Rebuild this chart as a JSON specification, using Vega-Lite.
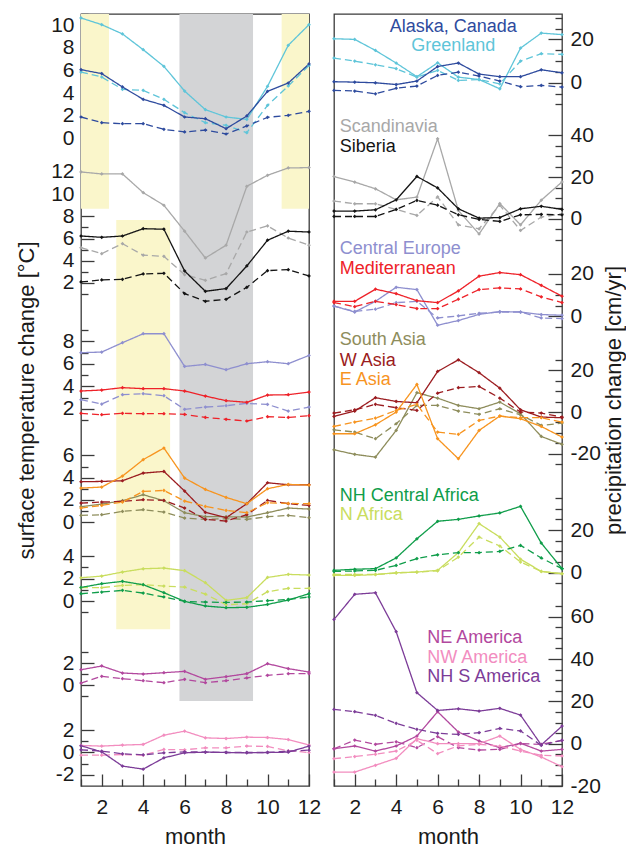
{
"$schema":"https://vega.github.io/schema/vega-lite/v6.json",
"background":"white",
"padding":{"left":14,"top":2,"right":0,"bottom":2},
"config":{
"view":{"stroke":"#3a3a3a","strokeWidth":1.3},
"font":"Liberation Sans",
"axis":{"labelFont":"Liberation Sans","labelFontSize":21,"labelColor":"#1a1a1a","titleFont":"Liberation Sans","titleFontSize":22,"titleFontWeight":"normal","titleColor":"#1a1a1a","domain":false,"grid":false,"tickColor":"#3a3a3a","tickWidth":1.3,"labelOverlap":false,"labelFlush":false,"labelBound":false},
"line":{"strokeWidth":1.3},
"point":{"filled":true,"size":14,"shape":"diamond","opacity":1},
"text":{"font":"Liberation Sans","fontSize":18}
},
"datasets":{
"shade":[
{"kind":"yellow","m":1,"m2":2.35,"v":11.0,"v2":-6.18},
{"kind":"yellow","m":10.68,"m2":12,"v":11.0,"v2":-6.18},
{"kind":"yellow","m":2.7,"m2":5.3,"v":-7.18,"v2":-43.3},
{"kind":"gray","m":5.75,"m2":9.3,"v":11.0,"v2":-49.63}
],
"labels":[
{"reg":"ALA","name":"Alaska, Canada","m":6.75,"v":25.7},
{"reg":"GRL","name":"Greenland","m":6.75,"v":16.8},
{"reg":"SCA","name":"Scandinavia","m":1.28,"v":44.0},
{"reg":"SIB","name":"Siberia","m":1.28,"v":34.4},
{"reg":"CEU","name":"Central Europe","m":1.28,"v":31.7},
{"reg":"MED","name":"Mediterranean","m":1.28,"v":22.3},
{"reg":"SAS","name":"South Asia","m":1.28,"v":34.4},
{"reg":"WAS","name":"W Asia","m":1.28,"v":24.5},
{"reg":"EAS","name":"E Asia","m":1.28,"v":15.2},
{"reg":"CAF","name":"NH Central Africa","m":1.28,"v":36.0},
{"reg":"NAF","name":"N Africa","m":1.28,"v":26.9},
{"reg":"NEA","name":"NE America","m":5.5,"v":49.7},
{"reg":"NWA","name":"NW America","m":5.5,"v":40.3},
{"reg":"SAM","name":"NH S America","m":5.5,"v":31.3}
],
"temp":[
{"reg":"GRL","sc":"a","m":1,"v":10.65},{"reg":"GRL","sc":"a","m":2,"v":10.06},{"reg":"GRL","sc":"a","m":3,"v":9.24},{"reg":"GRL","sc":"a","m":4,"v":7.85},{"reg":"GRL","sc":"a","m":5,"v":6.38},{"reg":"GRL","sc":"a","m":6,"v":4.2},{"reg":"GRL","sc":"a","m":7,"v":2.56},{"reg":"GRL","sc":"a","m":8,"v":1.91},{"reg":"GRL","sc":"a","m":9,"v":1.7},{"reg":"GRL","sc":"a","m":10,"v":4.62},{"reg":"GRL","sc":"a","m":11,"v":8.24},{"reg":"GRL","sc":"a","m":12,"v":10.06},
{"reg":"GRL","sc":"b","m":1,"v":5.88},{"reg":"GRL","sc":"b","m":2,"v":5.44},{"reg":"GRL","sc":"b","m":3,"v":4.35},{"reg":"GRL","sc":"b","m":4,"v":4.26},{"reg":"GRL","sc":"b","m":5,"v":3.47},{"reg":"GRL","sc":"b","m":6,"v":2.29},{"reg":"GRL","sc":"b","m":7,"v":1.41},{"reg":"GRL","sc":"b","m":8,"v":1.18},{"reg":"GRL","sc":"b","m":9,"v":0.53},{"reg":"GRL","sc":"b","m":10,"v":2.94},{"reg":"GRL","sc":"b","m":11,"v":4.65},{"reg":"GRL","sc":"b","m":12,"v":6.47},
{"reg":"ALA","sc":"a","m":1,"v":6.09},{"reg":"ALA","sc":"a","m":2,"v":5.74},{"reg":"ALA","sc":"a","m":3,"v":4.56},{"reg":"ALA","sc":"a","m":4,"v":3.47},{"reg":"ALA","sc":"a","m":5,"v":2.94},{"reg":"ALA","sc":"a","m":6,"v":1.91},{"reg":"ALA","sc":"a","m":7,"v":1.76},{"reg":"ALA","sc":"a","m":8,"v":0.88},{"reg":"ALA","sc":"a","m":9,"v":2.0},{"reg":"ALA","sc":"a","m":10,"v":4.18},{"reg":"ALA","sc":"a","m":11,"v":4.91},{"reg":"ALA","sc":"a","m":12,"v":6.59},
{"reg":"ALA","sc":"b","m":1,"v":1.91},{"reg":"ALA","sc":"b","m":2,"v":1.41},{"reg":"ALA","sc":"b","m":3,"v":1.32},{"reg":"ALA","sc":"b","m":4,"v":1.32},{"reg":"ALA","sc":"b","m":5,"v":0.82},{"reg":"ALA","sc":"b","m":6,"v":0.59},{"reg":"ALA","sc":"b","m":7,"v":0.76},{"reg":"ALA","sc":"b","m":8,"v":0.41},{"reg":"ALA","sc":"b","m":9,"v":1.12},{"reg":"ALA","sc":"b","m":10,"v":1.88},{"reg":"ALA","sc":"b","m":11,"v":2.06},{"reg":"ALA","sc":"b","m":12,"v":2.41},
{"reg":"SCA","sc":"a","m":1,"v":12.0},{"reg":"SCA","sc":"a","m":2,"v":11.82},{"reg":"SCA","sc":"a","m":3,"v":11.82},{"reg":"SCA","sc":"a","m":4,"v":10.14},{"reg":"SCA","sc":"a","m":5,"v":9.0},{"reg":"SCA","sc":"a","m":6,"v":6.66},{"reg":"SCA","sc":"a","m":7,"v":4.25},{"reg":"SCA","sc":"a","m":8,"v":5.4},{"reg":"SCA","sc":"a","m":9,"v":10.71},{"reg":"SCA","sc":"a","m":10,"v":11.7},{"reg":"SCA","sc":"a","m":11,"v":12.36},{"reg":"SCA","sc":"a","m":12,"v":12.39},
{"reg":"SCA","sc":"b","m":1,"v":5.18},{"reg":"SCA","sc":"b","m":2,"v":4.64},{"reg":"SCA","sc":"b","m":3,"v":5.54},{"reg":"SCA","sc":"b","m":4,"v":4.5},{"reg":"SCA","sc":"b","m":5,"v":4.4},{"reg":"SCA","sc":"b","m":6,"v":2.75},{"reg":"SCA","sc":"b","m":7,"v":2.24},{"reg":"SCA","sc":"b","m":8,"v":2.84},{"reg":"SCA","sc":"b","m":9,"v":6.59},{"reg":"SCA","sc":"b","m":10,"v":7.14},{"reg":"SCA","sc":"b","m":11,"v":6.05},{"reg":"SCA","sc":"b","m":12,"v":5.4},
{"reg":"SIB","sc":"a","m":1,"v":6.23},{"reg":"SIB","sc":"a","m":2,"v":6.11},{"reg":"SIB","sc":"a","m":3,"v":6.23},{"reg":"SIB","sc":"a","m":4,"v":6.89},{"reg":"SIB","sc":"a","m":5,"v":6.84},{"reg":"SIB","sc":"a","m":6,"v":3.08},{"reg":"SIB","sc":"a","m":7,"v":1.25},{"reg":"SIB","sc":"a","m":8,"v":1.49},{"reg":"SIB","sc":"a","m":9,"v":3.53},{"reg":"SIB","sc":"a","m":10,"v":5.85},{"reg":"SIB","sc":"a","m":11,"v":6.66},{"reg":"SIB","sc":"a","m":12,"v":6.59},
{"reg":"SIB","sc":"b","m":1,"v":2.09},{"reg":"SIB","sc":"b","m":2,"v":2.27},{"reg":"SIB","sc":"b","m":3,"v":2.33},{"reg":"SIB","sc":"b","m":4,"v":2.81},{"reg":"SIB","sc":"b","m":5,"v":2.87},{"reg":"SIB","sc":"b","m":6,"v":1.04},{"reg":"SIB","sc":"b","m":7,"v":0.35},{"reg":"SIB","sc":"b","m":8,"v":0.53},{"reg":"SIB","sc":"b","m":9,"v":1.61},{"reg":"SIB","sc":"b","m":10,"v":3.11},{"reg":"SIB","sc":"b","m":11,"v":3.2},{"reg":"SIB","sc":"b","m":12,"v":2.63},
{"reg":"CEU","sc":"a","m":1,"v":6.99},{"reg":"CEU","sc":"a","m":2,"v":7.05},{"reg":"CEU","sc":"a","m":3,"v":7.88},{"reg":"CEU","sc":"a","m":4,"v":8.68},{"reg":"CEU","sc":"a","m":5,"v":8.68},{"reg":"CEU","sc":"a","m":6,"v":5.77},{"reg":"CEU","sc":"a","m":7,"v":5.95},{"reg":"CEU","sc":"a","m":8,"v":5.48},{"reg":"CEU","sc":"a","m":9,"v":6.01},{"reg":"CEU","sc":"a","m":10,"v":6.19},{"reg":"CEU","sc":"a","m":11,"v":6.01},{"reg":"CEU","sc":"a","m":12,"v":6.75},
{"reg":"CEU","sc":"b","m":1,"v":2.81},{"reg":"CEU","sc":"b","m":2,"v":2.42},{"reg":"CEU","sc":"b","m":3,"v":3.25},{"reg":"CEU","sc":"b","m":4,"v":3.34},{"reg":"CEU","sc":"b","m":5,"v":3.16},{"reg":"CEU","sc":"b","m":6,"v":1.95},{"reg":"CEU","sc":"b","m":7,"v":2.15},{"reg":"CEU","sc":"b","m":8,"v":2.27},{"reg":"CEU","sc":"b","m":9,"v":2.48},{"reg":"CEU","sc":"b","m":10,"v":2.39},{"reg":"CEU","sc":"b","m":11,"v":1.8},{"reg":"CEU","sc":"b","m":12,"v":2.15},
{"reg":"MED","sc":"a","m":1,"v":3.58},{"reg":"MED","sc":"a","m":2,"v":3.67},{"reg":"MED","sc":"a","m":3,"v":3.88},{"reg":"MED","sc":"a","m":4,"v":3.79},{"reg":"MED","sc":"a","m":5,"v":3.79},{"reg":"MED","sc":"a","m":6,"v":3.58},{"reg":"MED","sc":"a","m":7,"v":3.13},{"reg":"MED","sc":"a","m":8,"v":2.72},{"reg":"MED","sc":"a","m":9,"v":2.57},{"reg":"MED","sc":"a","m":10,"v":3.22},{"reg":"MED","sc":"a","m":11,"v":3.25},{"reg":"MED","sc":"a","m":12,"v":3.49},
{"reg":"MED","sc":"b","m":1,"v":1.59},{"reg":"MED","sc":"b","m":2,"v":1.47},{"reg":"MED","sc":"b","m":3,"v":1.59},{"reg":"MED","sc":"b","m":4,"v":1.56},{"reg":"MED","sc":"b","m":5,"v":1.56},{"reg":"MED","sc":"b","m":6,"v":1.5},{"reg":"MED","sc":"b","m":7,"v":1.23},{"reg":"MED","sc":"b","m":8,"v":1.06},{"reg":"MED","sc":"b","m":9,"v":0.91},{"reg":"MED","sc":"b","m":10,"v":1.29},{"reg":"MED","sc":"b","m":11,"v":1.23},{"reg":"MED","sc":"b","m":12,"v":1.38},
{"reg":"SAS","sc":"a","m":1,"v":1.38},{"reg":"SAS","sc":"a","m":2,"v":1.62},{"reg":"SAS","sc":"a","m":3,"v":1.92},{"reg":"SAS","sc":"a","m":4,"v":2.46},{"reg":"SAS","sc":"a","m":5,"v":1.92},{"reg":"SAS","sc":"a","m":6,"v":0.84},{"reg":"SAS","sc":"a","m":7,"v":0.48},{"reg":"SAS","sc":"a","m":8,"v":0.48},{"reg":"SAS","sc":"a","m":9,"v":0.45},{"reg":"SAS","sc":"a","m":10,"v":0.84},{"reg":"SAS","sc":"a","m":11,"v":1.26},{"reg":"SAS","sc":"a","m":12,"v":1.17},
{"reg":"SAS","sc":"b","m":1,"v":0.6},{"reg":"SAS","sc":"b","m":2,"v":0.66},{"reg":"SAS","sc":"b","m":3,"v":0.96},{"reg":"SAS","sc":"b","m":4,"v":1.11},{"reg":"SAS","sc":"b","m":5,"v":0.9},{"reg":"SAS","sc":"b","m":6,"v":0.36},{"reg":"SAS","sc":"b","m":7,"v":0.24},{"reg":"SAS","sc":"b","m":8,"v":0.3},{"reg":"SAS","sc":"b","m":9,"v":0.24},{"reg":"SAS","sc":"b","m":10,"v":0.48},{"reg":"SAS","sc":"b","m":11,"v":0.6},{"reg":"SAS","sc":"b","m":12,"v":0.39},
{"reg":"WAS","sc":"a","m":1,"v":3.63},{"reg":"WAS","sc":"a","m":2,"v":3.66},{"reg":"WAS","sc":"a","m":3,"v":3.72},{"reg":"WAS","sc":"a","m":4,"v":4.41},{"reg":"WAS","sc":"a","m":5,"v":4.56},{"reg":"WAS","sc":"a","m":6,"v":2.79},{"reg":"WAS","sc":"a","m":7,"v":0.87},{"reg":"WAS","sc":"a","m":8,"v":0.39},{"reg":"WAS","sc":"a","m":9,"v":1.65},{"reg":"WAS","sc":"a","m":10,"v":3.54},{"reg":"WAS","sc":"a","m":11,"v":3.36},{"reg":"WAS","sc":"a","m":12,"v":3.36},
{"reg":"WAS","sc":"b","m":1,"v":1.71},{"reg":"WAS","sc":"b","m":2,"v":1.8},{"reg":"WAS","sc":"b","m":3,"v":1.86},{"reg":"WAS","sc":"b","m":4,"v":2.01},{"reg":"WAS","sc":"b","m":5,"v":1.95},{"reg":"WAS","sc":"b","m":6,"v":1.26},{"reg":"WAS","sc":"b","m":7,"v":0.24},{"reg":"WAS","sc":"b","m":8,"v":0.09},{"reg":"WAS","sc":"b","m":9,"v":0.66},{"reg":"WAS","sc":"b","m":10,"v":1.95},{"reg":"WAS","sc":"b","m":11,"v":1.65},{"reg":"WAS","sc":"b","m":12,"v":1.5},
{"reg":"EAS","sc":"a","m":1,"v":3.06},{"reg":"EAS","sc":"a","m":2,"v":3.15},{"reg":"EAS","sc":"a","m":3,"v":4.14},{"reg":"EAS","sc":"a","m":4,"v":5.62},{"reg":"EAS","sc":"a","m":5,"v":6.67},{"reg":"EAS","sc":"a","m":6,"v":3.96},{"reg":"EAS","sc":"a","m":7,"v":2.94},{"reg":"EAS","sc":"a","m":8,"v":2.22},{"reg":"EAS","sc":"a","m":9,"v":1.65},{"reg":"EAS","sc":"a","m":10,"v":3.0},{"reg":"EAS","sc":"a","m":11,"v":3.39},{"reg":"EAS","sc":"a","m":12,"v":3.33},
{"reg":"EAS","sc":"b","m":1,"v":1.26},{"reg":"EAS","sc":"b","m":2,"v":1.5},{"reg":"EAS","sc":"b","m":3,"v":1.8},{"reg":"EAS","sc":"b","m":4,"v":2.76},{"reg":"EAS","sc":"b","m":5,"v":2.85},{"reg":"EAS","sc":"b","m":6,"v":1.89},{"reg":"EAS","sc":"b","m":7,"v":1.41},{"reg":"EAS","sc":"b","m":8,"v":1.05},{"reg":"EAS","sc":"b","m":9,"v":0.84},{"reg":"EAS","sc":"b","m":10,"v":1.74},{"reg":"EAS","sc":"b","m":11,"v":1.68},{"reg":"EAS","sc":"b","m":12,"v":1.65},
{"reg":"NAF","sc":"a","m":1,"v":2.07},{"reg":"NAF","sc":"a","m":2,"v":2.22},{"reg":"NAF","sc":"a","m":3,"v":2.58},{"reg":"NAF","sc":"a","m":4,"v":2.87},{"reg":"NAF","sc":"a","m":5,"v":2.93},{"reg":"NAF","sc":"a","m":6,"v":2.7},{"reg":"NAF","sc":"a","m":7,"v":1.63},{"reg":"NAF","sc":"a","m":8,"v":0.06},{"reg":"NAF","sc":"a","m":9,"v":0.3},{"reg":"NAF","sc":"a","m":10,"v":2.1},{"reg":"NAF","sc":"a","m":11,"v":2.37},{"reg":"NAF","sc":"a","m":12,"v":2.31},
{"reg":"NAF","sc":"b","m":1,"v":1.19},{"reg":"NAF","sc":"b","m":2,"v":1.19},{"reg":"NAF","sc":"b","m":3,"v":1.39},{"reg":"NAF","sc":"b","m":4,"v":1.45},{"reg":"NAF","sc":"b","m":5,"v":1.33},{"reg":"NAF","sc":"b","m":6,"v":1.24},{"reg":"NAF","sc":"b","m":7,"v":0.62},{"reg":"NAF","sc":"b","m":8,"v":-0.33},{"reg":"NAF","sc":"b","m":9,"v":-0.24},{"reg":"NAF","sc":"b","m":10,"v":0.83},{"reg":"NAF","sc":"b","m":11,"v":1.13},{"reg":"NAF","sc":"b","m":12,"v":1.13},
{"reg":"CAF","sc":"a","m":1,"v":1.21},{"reg":"CAF","sc":"a","m":2,"v":1.54},{"reg":"CAF","sc":"a","m":3,"v":1.75},{"reg":"CAF","sc":"a","m":4,"v":1.45},{"reg":"CAF","sc":"a","m":5,"v":0.74},{"reg":"CAF","sc":"a","m":6,"v":-0.03},{"reg":"CAF","sc":"a","m":7,"v":-0.44},{"reg":"CAF","sc":"a","m":8,"v":-0.59},{"reg":"CAF","sc":"a","m":9,"v":-0.56},{"reg":"CAF","sc":"a","m":10,"v":-0.3},{"reg":"CAF","sc":"a","m":11,"v":0.09},{"reg":"CAF","sc":"a","m":12,"v":0.65},
{"reg":"CAF","sc":"b","m":1,"v":0.65},{"reg":"CAF","sc":"b","m":2,"v":0.8},{"reg":"CAF","sc":"b","m":3,"v":0.95},{"reg":"CAF","sc":"b","m":4,"v":0.71},{"reg":"CAF","sc":"b","m":5,"v":0.36},{"reg":"CAF","sc":"b","m":6,"v":-0.03},{"reg":"CAF","sc":"b","m":7,"v":-0.09},{"reg":"CAF","sc":"b","m":8,"v":-0.12},{"reg":"CAF","sc":"b","m":9,"v":-0.09},{"reg":"CAF","sc":"b","m":10,"v":0.03},{"reg":"CAF","sc":"b","m":11,"v":0.15},{"reg":"CAF","sc":"b","m":12,"v":0.36},
{"reg":"NEA","sc":"a","m":1,"v":1.42},{"reg":"NEA","sc":"a","m":2,"v":1.76},{"reg":"NEA","sc":"a","m":3,"v":1.12},{"reg":"NEA","sc":"a","m":4,"v":1.03},{"reg":"NEA","sc":"a","m":5,"v":1.15},{"reg":"NEA","sc":"a","m":6,"v":1.27},{"reg":"NEA","sc":"a","m":7,"v":0.55},{"reg":"NEA","sc":"a","m":8,"v":0.79},{"reg":"NEA","sc":"a","m":9,"v":1.06},{"reg":"NEA","sc":"a","m":10,"v":1.97},{"reg":"NEA","sc":"a","m":11,"v":1.52},{"reg":"NEA","sc":"a","m":12,"v":1.21},
{"reg":"NEA","sc":"b","m":1,"v":0.21},{"reg":"NEA","sc":"b","m":2,"v":0.82},{"reg":"NEA","sc":"b","m":3,"v":0.61},{"reg":"NEA","sc":"b","m":4,"v":0.42},{"reg":"NEA","sc":"b","m":5,"v":0.24},{"reg":"NEA","sc":"b","m":6,"v":0.55},{"reg":"NEA","sc":"b","m":7,"v":0.24},{"reg":"NEA","sc":"b","m":8,"v":0.42},{"reg":"NEA","sc":"b","m":9,"v":0.67},{"reg":"NEA","sc":"b","m":10,"v":0.91},{"reg":"NEA","sc":"b","m":11,"v":1.06},{"reg":"NEA","sc":"b","m":12,"v":1.06},
{"reg":"NWA","sc":"a","m":1,"v":0.63},{"reg":"NWA","sc":"a","m":2,"v":0.57},{"reg":"NWA","sc":"a","m":3,"v":0.66},{"reg":"NWA","sc":"a","m":4,"v":0.72},{"reg":"NWA","sc":"a","m":5,"v":1.55},{"reg":"NWA","sc":"a","m":6,"v":1.91},{"reg":"NWA","sc":"a","m":7,"v":1.31},{"reg":"NWA","sc":"a","m":8,"v":1.25},{"reg":"NWA","sc":"a","m":9,"v":1.37},{"reg":"NWA","sc":"a","m":10,"v":1.34},{"reg":"NWA","sc":"a","m":11,"v":1.16},{"reg":"NWA","sc":"a","m":12,"v":0.66},
{"reg":"NWA","sc":"b","m":1,"v":-0.24},{"reg":"NWA","sc":"b","m":2,"v":-0.24},{"reg":"NWA","sc":"b","m":3,"v":-0.18},{"reg":"NWA","sc":"b","m":4,"v":-0.24},{"reg":"NWA","sc":"b","m":5,"v":0.27},{"reg":"NWA","sc":"b","m":6,"v":0.24},{"reg":"NWA","sc":"b","m":7,"v":0.42},{"reg":"NWA","sc":"b","m":8,"v":0.42},{"reg":"NWA","sc":"b","m":9,"v":0.57},{"reg":"NWA","sc":"b","m":10,"v":0.54},{"reg":"NWA","sc":"b","m":11,"v":0.15},{"reg":"NWA","sc":"b","m":12,"v":0.0},
{"reg":"SAM","sc":"a","m":1,"v":0.6},{"reg":"SAM","sc":"a","m":2,"v":0.06},{"reg":"SAM","sc":"a","m":3,"v":-1.22},{"reg":"SAM","sc":"a","m":4,"v":-1.49},{"reg":"SAM","sc":"a","m":5,"v":-0.48},{"reg":"SAM","sc":"a","m":6,"v":-0.03},{"reg":"SAM","sc":"a","m":7,"v":0.03},{"reg":"SAM","sc":"a","m":8,"v":0.0},{"reg":"SAM","sc":"a","m":9,"v":-0.03},{"reg":"SAM","sc":"a","m":10,"v":0.0},{"reg":"SAM","sc":"a","m":11,"v":0.03},{"reg":"SAM","sc":"a","m":12,"v":0.57},
{"reg":"SAM","sc":"b","m":1,"v":0.24},{"reg":"SAM","sc":"b","m":2,"v":0.12},{"reg":"SAM","sc":"b","m":3,"v":-0.12},{"reg":"SAM","sc":"b","m":4,"v":-0.21},{"reg":"SAM","sc":"b","m":5,"v":-0.03},{"reg":"SAM","sc":"b","m":6,"v":0.06},{"reg":"SAM","sc":"b","m":7,"v":0.03},{"reg":"SAM","sc":"b","m":8,"v":0.0},{"reg":"SAM","sc":"b","m":9,"v":0.0},{"reg":"SAM","sc":"b","m":10,"v":0.0},{"reg":"SAM","sc":"b","m":11,"v":0.12},{"reg":"SAM","sc":"b","m":12,"v":0.21}
],
"prec":[
{"reg":"GRL","sc":"a","m":1,"v":20.3},{"reg":"GRL","sc":"a","m":2,"v":20.0},{"reg":"GRL","sc":"a","m":3,"v":14.9},{"reg":"GRL","sc":"a","m":4,"v":9.1},{"reg":"GRL","sc":"a","m":5,"v":2.8},{"reg":"GRL","sc":"a","m":6,"v":9.2},{"reg":"GRL","sc":"a","m":7,"v":2.6},{"reg":"GRL","sc":"a","m":8,"v":1.5},{"reg":"GRL","sc":"a","m":9,"v":-2.8},{"reg":"GRL","sc":"a","m":10,"v":16.0},{"reg":"GRL","sc":"a","m":11,"v":22.9},{"reg":"GRL","sc":"a","m":12,"v":22.2},
{"reg":"GRL","sc":"b","m":1,"v":11.4},{"reg":"GRL","sc":"b","m":2,"v":10.0},{"reg":"GRL","sc":"b","m":3,"v":8.3},{"reg":"GRL","sc":"b","m":4,"v":6.5},{"reg":"GRL","sc":"b","m":5,"v":2.6},{"reg":"GRL","sc":"b","m":6,"v":5.7},{"reg":"GRL","sc":"b","m":7,"v":1.1},{"reg":"GRL","sc":"b","m":8,"v":1.5},{"reg":"GRL","sc":"b","m":9,"v":-0.5},{"reg":"GRL","sc":"b","m":10,"v":10.0},{"reg":"GRL","sc":"b","m":11,"v":13.4},{"reg":"GRL","sc":"b","m":12,"v":13.1},
{"reg":"ALA","sc":"a","m":1,"v":0.5},{"reg":"ALA","sc":"a","m":2,"v":0.3},{"reg":"ALA","sc":"a","m":3,"v":0.0},{"reg":"ALA","sc":"a","m":4,"v":-0.8},{"reg":"ALA","sc":"a","m":5,"v":0.8},{"reg":"ALA","sc":"a","m":6,"v":7.5},{"reg":"ALA","sc":"a","m":7,"v":9.1},{"reg":"ALA","sc":"a","m":8,"v":4.0},{"reg":"ALA","sc":"a","m":9,"v":2.8},{"reg":"ALA","sc":"a","m":10,"v":2.8},{"reg":"ALA","sc":"a","m":11,"v":6.0},{"reg":"ALA","sc":"a","m":12,"v":4.6},
{"reg":"ALA","sc":"b","m":1,"v":-3.5},{"reg":"ALA","sc":"b","m":2,"v":-3.8},{"reg":"ALA","sc":"b","m":3,"v":-5.1},{"reg":"ALA","sc":"b","m":4,"v":-2.5},{"reg":"ALA","sc":"b","m":5,"v":-1.5},{"reg":"ALA","sc":"b","m":6,"v":3.4},{"reg":"ALA","sc":"b","m":7,"v":4.9},{"reg":"ALA","sc":"b","m":8,"v":3.1},{"reg":"ALA","sc":"b","m":9,"v":0.8},{"reg":"ALA","sc":"b","m":10,"v":-1.8},{"reg":"ALA","sc":"b","m":11,"v":-1.2},{"reg":"ALA","sc":"b","m":12,"v":-2.0},
{"reg":"SCA","sc":"a","m":1,"v":20.3},{"reg":"SCA","sc":"a","m":2,"v":17.6},{"reg":"SCA","sc":"a","m":3,"v":14.4},{"reg":"SCA","sc":"a","m":4,"v":9.1},{"reg":"SCA","sc":"a","m":5,"v":10.4},{"reg":"SCA","sc":"a","m":6,"v":38.4},{"reg":"SCA","sc":"a","m":7,"v":4.0},{"reg":"SCA","sc":"a","m":8,"v":-7.3},{"reg":"SCA","sc":"a","m":9,"v":7.3},{"reg":"SCA","sc":"a","m":10,"v":-2.9},{"reg":"SCA","sc":"a","m":11,"v":8.9},{"reg":"SCA","sc":"a","m":12,"v":17.7},
{"reg":"SCA","sc":"b","m":1,"v":8.5},{"reg":"SCA","sc":"b","m":2,"v":7.2},{"reg":"SCA","sc":"b","m":3,"v":7.2},{"reg":"SCA","sc":"b","m":4,"v":4.5},{"reg":"SCA","sc":"b","m":5,"v":1.6},{"reg":"SCA","sc":"b","m":6,"v":10.5},{"reg":"SCA","sc":"b","m":7,"v":-2.9},{"reg":"SCA","sc":"b","m":8,"v":-4.8},{"reg":"SCA","sc":"b","m":9,"v":6.5},{"reg":"SCA","sc":"b","m":10,"v":-5.6},{"reg":"SCA","sc":"b","m":11,"v":0.8},{"reg":"SCA","sc":"b","m":12,"v":2.4},
{"reg":"SIB","sc":"a","m":1,"v":3.7},{"reg":"SIB","sc":"a","m":2,"v":3.7},{"reg":"SIB","sc":"a","m":3,"v":4.3},{"reg":"SIB","sc":"a","m":4,"v":9.1},{"reg":"SIB","sc":"a","m":5,"v":20.3},{"reg":"SIB","sc":"a","m":6,"v":14.8},{"reg":"SIB","sc":"a","m":7,"v":4.8},{"reg":"SIB","sc":"a","m":8,"v":0.3},{"reg":"SIB","sc":"a","m":9,"v":0.6},{"reg":"SIB","sc":"a","m":10,"v":4.8},{"reg":"SIB","sc":"a","m":11,"v":6.0},{"reg":"SIB","sc":"a","m":12,"v":4.5},
{"reg":"SIB","sc":"b","m":1,"v":1.1},{"reg":"SIB","sc":"b","m":2,"v":1.1},{"reg":"SIB","sc":"b","m":3,"v":1.1},{"reg":"SIB","sc":"b","m":4,"v":4.5},{"reg":"SIB","sc":"b","m":5,"v":8.8},{"reg":"SIB","sc":"b","m":6,"v":6.5},{"reg":"SIB","sc":"b","m":7,"v":1.9},{"reg":"SIB","sc":"b","m":8,"v":-0.3},{"reg":"SIB","sc":"b","m":9,"v":-1.3},{"reg":"SIB","sc":"b","m":10,"v":1.9},{"reg":"SIB","sc":"b","m":11,"v":2.1},{"reg":"SIB","sc":"b","m":12,"v":1.9},
{"reg":"CEU","sc":"a","m":1,"v":4.8},{"reg":"CEU","sc":"a","m":2,"v":2.0},{"reg":"CEU","sc":"a","m":3,"v":7.0},{"reg":"CEU","sc":"a","m":4,"v":13.6},{"reg":"CEU","sc":"a","m":5,"v":12.5},{"reg":"CEU","sc":"a","m":6,"v":-4.2},{"reg":"CEU","sc":"a","m":7,"v":-2.0},{"reg":"CEU","sc":"a","m":8,"v":0.9},{"reg":"CEU","sc":"a","m":9,"v":2.2},{"reg":"CEU","sc":"a","m":10,"v":2.0},{"reg":"CEU","sc":"a","m":11,"v":0.8},{"reg":"CEU","sc":"a","m":12,"v":0.5},
{"reg":"CEU","sc":"b","m":1,"v":4.8},{"reg":"CEU","sc":"b","m":2,"v":2.3},{"reg":"CEU","sc":"b","m":3,"v":3.3},{"reg":"CEU","sc":"b","m":4,"v":6.4},{"reg":"CEU","sc":"b","m":5,"v":7.0},{"reg":"CEU","sc":"b","m":6,"v":-0.8},{"reg":"CEU","sc":"b","m":7,"v":0.2},{"reg":"CEU","sc":"b","m":8,"v":1.4},{"reg":"CEU","sc":"b","m":9,"v":2.0},{"reg":"CEU","sc":"b","m":10,"v":2.0},{"reg":"CEU","sc":"b","m":11,"v":-0.8},{"reg":"CEU","sc":"b","m":12,"v":-1.1},
{"reg":"MED","sc":"a","m":1,"v":7.0},{"reg":"MED","sc":"a","m":2,"v":7.0},{"reg":"MED","sc":"a","m":3,"v":12.7},{"reg":"MED","sc":"a","m":4,"v":10.6},{"reg":"MED","sc":"a","m":5,"v":7.3},{"reg":"MED","sc":"a","m":6,"v":6.4},{"reg":"MED","sc":"a","m":7,"v":11.9},{"reg":"MED","sc":"a","m":8,"v":18.8},{"reg":"MED","sc":"a","m":9,"v":20.5},{"reg":"MED","sc":"a","m":10,"v":19.5},{"reg":"MED","sc":"a","m":11,"v":14.5},{"reg":"MED","sc":"a","m":12,"v":9.4},
{"reg":"MED","sc":"b","m":1,"v":6.4},{"reg":"MED","sc":"b","m":2,"v":4.5},{"reg":"MED","sc":"b","m":3,"v":7.0},{"reg":"MED","sc":"b","m":4,"v":5.5},{"reg":"MED","sc":"b","m":5,"v":3.6},{"reg":"MED","sc":"b","m":6,"v":3.6},{"reg":"MED","sc":"b","m":7,"v":8.0},{"reg":"MED","sc":"b","m":8,"v":12.5},{"reg":"MED","sc":"b","m":9,"v":13.3},{"reg":"MED","sc":"b","m":10,"v":12.8},{"reg":"MED","sc":"b","m":11,"v":9.1},{"reg":"MED","sc":"b","m":12,"v":6.4},
{"reg":"SAS","sc":"a","m":1,"v":-18.1},{"reg":"SAS","sc":"a","m":2,"v":-20.3},{"reg":"SAS","sc":"a","m":3,"v":-21.6},{"reg":"SAS","sc":"a","m":4,"v":-8.8},{"reg":"SAS","sc":"a","m":5,"v":9.3},{"reg":"SAS","sc":"a","m":6,"v":6.7},{"reg":"SAS","sc":"a","m":7,"v":3.2},{"reg":"SAS","sc":"a","m":8,"v":1.6},{"reg":"SAS","sc":"a","m":9,"v":4.8},{"reg":"SAS","sc":"a","m":10,"v":-0.8},{"reg":"SAS","sc":"a","m":11,"v":-11.7},{"reg":"SAS","sc":"a","m":12,"v":-15.5},
{"reg":"SAS","sc":"b","m":1,"v":-8.5},{"reg":"SAS","sc":"b","m":2,"v":-9.6},{"reg":"SAS","sc":"b","m":3,"v":-12.8},{"reg":"SAS","sc":"b","m":4,"v":-5.6},{"reg":"SAS","sc":"b","m":5,"v":3.2},{"reg":"SAS","sc":"b","m":6,"v":3.2},{"reg":"SAS","sc":"b","m":7,"v":0.5},{"reg":"SAS","sc":"b","m":8,"v":-1.1},{"reg":"SAS","sc":"b","m":9,"v":1.6},{"reg":"SAS","sc":"b","m":10,"v":-1.3},{"reg":"SAS","sc":"b","m":11,"v":-6.4},{"reg":"SAS","sc":"b","m":12,"v":-5.3},
{"reg":"WAS","sc":"a","m":1,"v":-2.1},{"reg":"WAS","sc":"a","m":2,"v":0.5},{"reg":"WAS","sc":"a","m":3,"v":6.9},{"reg":"WAS","sc":"a","m":4,"v":5.1},{"reg":"WAS","sc":"a","m":5,"v":4.5},{"reg":"WAS","sc":"a","m":6,"v":19.5},{"reg":"WAS","sc":"a","m":7,"v":25.1},{"reg":"WAS","sc":"a","m":8,"v":18.9},{"reg":"WAS","sc":"a","m":9,"v":11.5},{"reg":"WAS","sc":"a","m":10,"v":1.1},{"reg":"WAS","sc":"a","m":11,"v":-2.4},{"reg":"WAS","sc":"a","m":12,"v":-2.7},
{"reg":"WAS","sc":"b","m":1,"v":-0.5},{"reg":"WAS","sc":"b","m":2,"v":1.1},{"reg":"WAS","sc":"b","m":3,"v":3.7},{"reg":"WAS","sc":"b","m":4,"v":2.1},{"reg":"WAS","sc":"b","m":5,"v":0.8},{"reg":"WAS","sc":"b","m":6,"v":9.1},{"reg":"WAS","sc":"b","m":7,"v":11.7},{"reg":"WAS","sc":"b","m":8,"v":12.3},{"reg":"WAS","sc":"b","m":9,"v":6.7},{"reg":"WAS","sc":"b","m":10,"v":0.0},{"reg":"WAS","sc":"b","m":11,"v":-0.5},{"reg":"WAS","sc":"b","m":12,"v":-2.4},
{"reg":"EAS","sc":"a","m":1,"v":-10.4},{"reg":"EAS","sc":"a","m":2,"v":-10.4},{"reg":"EAS","sc":"a","m":3,"v":-6.1},{"reg":"EAS","sc":"a","m":4,"v":0.0},{"reg":"EAS","sc":"a","m":5,"v":13.3},{"reg":"EAS","sc":"a","m":6,"v":-12.8},{"reg":"EAS","sc":"a","m":7,"v":-22.4},{"reg":"EAS","sc":"a","m":8,"v":-8.8},{"reg":"EAS","sc":"a","m":9,"v":-1.9},{"reg":"EAS","sc":"a","m":10,"v":-3.2},{"reg":"EAS","sc":"a","m":11,"v":-6.9},{"reg":"EAS","sc":"a","m":12,"v":-12.0},
{"reg":"EAS","sc":"b","m":1,"v":-6.9},{"reg":"EAS","sc":"b","m":2,"v":-4.8},{"reg":"EAS","sc":"b","m":3,"v":-2.9},{"reg":"EAS","sc":"b","m":4,"v":0.8},{"reg":"EAS","sc":"b","m":5,"v":3.7},{"reg":"EAS","sc":"b","m":6,"v":-9.6},{"reg":"EAS","sc":"b","m":7,"v":-10.7},{"reg":"EAS","sc":"b","m":8,"v":-4.0},{"reg":"EAS","sc":"b","m":9,"v":-1.9},{"reg":"EAS","sc":"b","m":10,"v":-2.7},{"reg":"EAS","sc":"b","m":11,"v":-2.7},{"reg":"EAS","sc":"b","m":12,"v":-4.8},
{"reg":"NAF","sc":"a","m":1,"v":-1.3},{"reg":"NAF","sc":"a","m":2,"v":-1.3},{"reg":"NAF","sc":"a","m":3,"v":-0.9},{"reg":"NAF","sc":"a","m":4,"v":0.0},{"reg":"NAF","sc":"a","m":5,"v":0.3},{"reg":"NAF","sc":"a","m":6,"v":1.1},{"reg":"NAF","sc":"a","m":7,"v":9.4},{"reg":"NAF","sc":"a","m":8,"v":23.0},{"reg":"NAF","sc":"a","m":9,"v":16.7},{"reg":"NAF","sc":"a","m":10,"v":6.3},{"reg":"NAF","sc":"a","m":11,"v":0.6},{"reg":"NAF","sc":"a","m":12,"v":-0.5},
{"reg":"NAF","sc":"b","m":1,"v":-0.8},{"reg":"NAF","sc":"b","m":2,"v":-0.8},{"reg":"NAF","sc":"b","m":3,"v":-0.8},{"reg":"NAF","sc":"b","m":4,"v":-0.2},{"reg":"NAF","sc":"b","m":5,"v":0.3},{"reg":"NAF","sc":"b","m":6,"v":0.9},{"reg":"NAF","sc":"b","m":7,"v":7.3},{"reg":"NAF","sc":"b","m":8,"v":16.7},{"reg":"NAF","sc":"b","m":9,"v":12.5},{"reg":"NAF","sc":"b","m":10,"v":5.0},{"reg":"NAF","sc":"b","m":11,"v":0.6},{"reg":"NAF","sc":"b","m":12,"v":-0.5},
{"reg":"CAF","sc":"a","m":1,"v":1.1},{"reg":"CAF","sc":"a","m":2,"v":1.6},{"reg":"CAF","sc":"a","m":3,"v":1.9},{"reg":"CAF","sc":"a","m":4,"v":6.9},{"reg":"CAF","sc":"a","m":5,"v":15.9},{"reg":"CAF","sc":"a","m":6,"v":24.1},{"reg":"CAF","sc":"a","m":7,"v":25.0},{"reg":"CAF","sc":"a","m":8,"v":26.6},{"reg":"CAF","sc":"a","m":9,"v":28.0},{"reg":"CAF","sc":"a","m":10,"v":31.1},{"reg":"CAF","sc":"a","m":11,"v":13.9},{"reg":"CAF","sc":"a","m":12,"v":1.9},
{"reg":"CAF","sc":"b","m":1,"v":0.6},{"reg":"CAF","sc":"b","m":2,"v":0.8},{"reg":"CAF","sc":"b","m":3,"v":1.1},{"reg":"CAF","sc":"b","m":4,"v":3.4},{"reg":"CAF","sc":"b","m":5,"v":6.6},{"reg":"CAF","sc":"b","m":6,"v":8.4},{"reg":"CAF","sc":"b","m":7,"v":9.4},{"reg":"CAF","sc":"b","m":8,"v":9.4},{"reg":"CAF","sc":"b","m":9,"v":10.0},{"reg":"CAF","sc":"b","m":10,"v":12.8},{"reg":"CAF","sc":"b","m":11,"v":6.9},{"reg":"CAF","sc":"b","m":12,"v":1.9},
{"reg":"NEA","sc":"a","m":1,"v":-2.4},{"reg":"NEA","sc":"a","m":2,"v":-1.1},{"reg":"NEA","sc":"a","m":3,"v":-3.5},{"reg":"NEA","sc":"a","m":4,"v":-1.1},{"reg":"NEA","sc":"a","m":5,"v":3.6},{"reg":"NEA","sc":"a","m":6,"v":15.1},{"reg":"NEA","sc":"a","m":7,"v":5.5},{"reg":"NEA","sc":"a","m":8,"v":1.3},{"reg":"NEA","sc":"a","m":9,"v":-1.9},{"reg":"NEA","sc":"a","m":10,"v":0.2},{"reg":"NEA","sc":"a","m":11,"v":-3.5},{"reg":"NEA","sc":"a","m":12,"v":-2.7},
{"reg":"NEA","sc":"b","m":1,"v":-2.4},{"reg":"NEA","sc":"b","m":2,"v":1.7},{"reg":"NEA","sc":"b","m":3,"v":-0.3},{"reg":"NEA","sc":"b","m":4,"v":0.9},{"reg":"NEA","sc":"b","m":5,"v":-1.9},{"reg":"NEA","sc":"b","m":6,"v":3.3},{"reg":"NEA","sc":"b","m":7,"v":-1.9},{"reg":"NEA","sc":"b","m":8,"v":-3.0},{"reg":"NEA","sc":"b","m":9,"v":-2.7},{"reg":"NEA","sc":"b","m":10,"v":0.0},{"reg":"NEA","sc":"b","m":11,"v":-0.3},{"reg":"NEA","sc":"b","m":12,"v":1.6},
{"reg":"NWA","sc":"a","m":1,"v":-13.4},{"reg":"NWA","sc":"a","m":2,"v":-13.4},{"reg":"NWA","sc":"a","m":3,"v":-10.2},{"reg":"NWA","sc":"a","m":4,"v":-6.9},{"reg":"NWA","sc":"a","m":5,"v":2.4},{"reg":"NWA","sc":"a","m":6,"v":0.0},{"reg":"NWA","sc":"a","m":7,"v":0.0},{"reg":"NWA","sc":"a","m":8,"v":0.0},{"reg":"NWA","sc":"a","m":9,"v":3.6},{"reg":"NWA","sc":"a","m":10,"v":-2.7},{"reg":"NWA","sc":"a","m":11,"v":-6.3},{"reg":"NWA","sc":"a","m":12,"v":-10.9},
{"reg":"NWA","sc":"b","m":1,"v":-7.1},{"reg":"NWA","sc":"b","m":2,"v":-6.1},{"reg":"NWA","sc":"b","m":3,"v":-5.0},{"reg":"NWA","sc":"b","m":4,"v":-3.5},{"reg":"NWA","sc":"b","m":5,"v":1.6},{"reg":"NWA","sc":"b","m":6,"v":-4.7},{"reg":"NWA","sc":"b","m":7,"v":-1.0},{"reg":"NWA","sc":"b","m":8,"v":-0.3},{"reg":"NWA","sc":"b","m":9,"v":-1.1},{"reg":"NWA","sc":"b","m":10,"v":-3.5},{"reg":"NWA","sc":"b","m":11,"v":-5.5},{"reg":"NWA","sc":"b","m":12,"v":-5.8},
{"reg":"SAM","sc":"a","m":1,"v":58.7},{"reg":"SAM","sc":"a","m":2,"v":70.6},{"reg":"SAM","sc":"a","m":3,"v":71.3},{"reg":"SAM","sc":"a","m":4,"v":52.9},{"reg":"SAM","sc":"a","m":5,"v":24.1},{"reg":"SAM","sc":"a","m":6,"v":15.7},{"reg":"SAM","sc":"a","m":7,"v":16.5},{"reg":"SAM","sc":"a","m":8,"v":15.4},{"reg":"SAM","sc":"a","m":9,"v":16.7},{"reg":"SAM","sc":"a","m":10,"v":13.5},{"reg":"SAM","sc":"a","m":11,"v":-0.6},{"reg":"SAM","sc":"a","m":12,"v":8.3},
{"reg":"SAM","sc":"b","m":1,"v":16.2},{"reg":"SAM","sc":"b","m":2,"v":15.1},{"reg":"SAM","sc":"b","m":3,"v":13.4},{"reg":"SAM","sc":"b","m":4,"v":9.6},{"reg":"SAM","sc":"b","m":5,"v":6.8},{"reg":"SAM","sc":"b","m":6,"v":4.9},{"reg":"SAM","sc":"b","m":7,"v":4.4},{"reg":"SAM","sc":"b","m":8,"v":5.2},{"reg":"SAM","sc":"b","m":9,"v":7.2},{"reg":"SAM","sc":"b","m":10,"v":6.0},{"reg":"SAM","sc":"b","m":11,"v":-0.8},{"reg":"SAM","sc":"b","m":12,"v":1.6}
]
},
"spacing":8,
"hconcat":[
{
"width":228,"height":772,
"encoding":{"x":{"field":"m","type":"quantitative","scale":{"domain":[1,12],"nice":false,"zero":false},"axis":{"values":[1,2,3,4,5,6,7,8,9,10,11,12],"labelExpr":"datum.value % 2 === 0 ? '' + datum.value : ''","tickSize":{"condition":{"test":"datum.value % 2 === 0","value":-12},"value":-7},"labelPadding":22,"title":"month","titlePadding":4}}},
"resolve":{"scale":{"y":"independent"},"axis":{"y":"independent"}},
"layer":[
{"data":{"name":"shade"},"mark":{"type":"rect"},"encoding":{"x2":{"field":"m2"},"y":{"field":"v","type":"quantitative","scale":{"domain":[-57.13,11.0],"nice":false,"zero":false},"axis":null},"y2":{"field":"v2"},"fill":{"field":"kind","type":"nominal","scale":{"domain":["yellow","gray"],"range":["#FAF6CB","#D3D4D6"]},"legend":null}}},
{"data":{"name":"temp"},"transform":[{"filter":{"field":"reg","oneOf":["ALA","GRL"]}}],"mark":{"type":"line","point":true},"encoding":{"y":{"field":"v","type":"quantitative","scale":{"domain":[-57.13,11.0],"nice":false,"zero":false},"axis":{"orient":"left","title":"surface temperature change [°C]","titlePadding":12,"values":[0,1,2,3,4,5,6,7,8,9,10,11],"labelExpr":"datum.value % 2 === 0 ? '' + datum.value : ''","tickSize":{"condition":{"test":"datum.value % 2 === 0","value":-13},"value":-7},"labelPadding":20}},"color":{"field":"reg","type":"nominal","scale":{"domain":["ALA","CAF","CEU","EAS","GRL","MED","NAF","NEA","NWA","SAM","SAS","SCA","SIB","WAS"],"range":["#2E4B9E","#0F9D4A","#8E8FCF","#F7941F","#5FC5D9","#EE2229","#C9DD5E","#B2489E","#F28DBF","#7C3C98","#8E8D5C","#A8A8A8","#141414","#9B1C20"]},"legend":null},"strokeDash":{"field":"sc","type":"nominal","scale":{"domain":["a","b"],"range":[[1,0],[7,4]]},"legend":null}}},
{"data":{"name":"temp"},"transform":[{"filter":{"field":"reg","oneOf":["SCA","SIB"]}}],"mark":{"type":"line","point":true},"encoding":{"y":{"field":"v","type":"quantitative","scale":{"domain":[-43.32,26.23],"nice":false,"zero":false},"axis":{"orient":"left","title":null,"values":[1,2,3,4,5,6,7,8,9,10,11,12],"labelExpr":"datum.value % 2 === 0 ? '' + datum.value : ''","tickSize":{"condition":{"test":"datum.value % 2 === 0","value":-13},"value":-7},"labelPadding":20}},"color":{"field":"reg","type":"nominal","legend":null},"strokeDash":{"field":"sc","type":"nominal","legend":null}}},
{"data":{"name":"temp"},"transform":[{"filter":{"field":"reg","oneOf":["CEU","MED"]}}],"mark":{"type":"line","point":true},"encoding":{"y":{"field":"v","type":"quantitative","scale":{"domain":[-31.59,37.15],"nice":false,"zero":false},"axis":{"orient":"left","title":null,"values":[1,2,3,4,5,6,7,8,9],"labelExpr":"datum.value % 2 === 0 ? '' + datum.value : ''","tickSize":{"condition":{"test":"datum.value % 2 === 0","value":-13},"value":-7},"labelPadding":20}},"color":{"field":"reg","type":"nominal","legend":null},"strokeDash":{"field":"sc","type":"nominal","legend":null}}},
{"data":{"name":"temp"},"transform":[{"filter":{"field":"reg","oneOf":["SAS","WAS","EAS"]}}],"mark":{"type":"line","point":true},"encoding":{"y":{"field":"v","type":"quantitative","scale":{"domain":[-23.78,45.77],"nice":false,"zero":false},"axis":{"orient":"left","title":null,"values":[0,1,2,3,4,5,6],"labelExpr":"datum.value % 2 === 0 ? '' + datum.value : ''","tickSize":{"condition":{"test":"datum.value % 2 === 0","value":-13},"value":-7},"labelPadding":20}},"color":{"field":"reg","type":"nominal","legend":null},"strokeDash":{"field":"sc","type":"nominal","legend":null}}},
{"data":{"name":"temp"},"transform":[{"filter":{"field":"reg","oneOf":["NAF","CAF"]}}],"mark":{"type":"line","point":true},"encoding":{"y":{"field":"v","type":"quantitative","scale":{"domain":[-16.44,52.18],"nice":false,"zero":false},"axis":{"orient":"left","title":null,"values":[-1,0,1,2,3,4],"labelExpr":"datum.value % 2 === 0 ? '' + datum.value : ''","tickSize":{"condition":{"test":"datum.value % 2 === 0","value":-13},"value":-7},"labelPadding":20}},"color":{"field":"reg","type":"nominal","legend":null},"strokeDash":{"field":"sc","type":"nominal","legend":null}}},
{"data":{"name":"temp"},"transform":[{"filter":{"field":"reg","oneOf":["NEA"]}}],"mark":{"type":"line","point":true},"encoding":{"y":{"field":"v","type":"quantitative","scale":{"domain":[-9.15,61.03],"nice":false,"zero":false},"axis":{"orient":"left","title":null,"values":[-1,0,1,2,3],"labelExpr":"datum.value % 2 === 0 ? '' + datum.value : ''","tickSize":{"condition":{"test":"datum.value % 2 === 0","value":-13},"value":-7},"labelPadding":20}},"color":{"field":"reg","type":"nominal","legend":null},"strokeDash":{"field":"sc","type":"nominal","legend":null}}},
{"data":{"name":"temp"},"transform":[{"filter":{"field":"reg","oneOf":["NWA","SAM"]}}],"mark":{"type":"line","point":true},"encoding":{"y":{"field":"v","type":"quantitative","scale":{"domain":[-3,66.1],"nice":false,"zero":false},"axis":{"orient":"left","title":null,"values":[-2,-1,0,1,2],"labelExpr":"datum.value % 2 === 0 ? '' + datum.value : ''","tickSize":{"condition":{"test":"datum.value % 2 === 0","value":-13},"value":-7},"labelPadding":20}},"color":{"field":"reg","type":"nominal","legend":null},"strokeDash":{"field":"sc","type":"nominal","legend":null}}}
]
},
{
"width":228,"height":772,
"encoding":{"x":{"field":"m","type":"quantitative","scale":{"domain":[1,12],"nice":false,"zero":false},"axis":{"values":[1,2,3,4,5,6,7,8,9,10,11,12],"labelExpr":"datum.value % 2 === 0 ? '' + datum.value : ''","tickSize":{"condition":{"test":"datum.value % 2 === 0","value":-12},"value":-7},"labelPadding":22,"title":"month","titlePadding":4}}},
"resolve":{"scale":{"y":"independent"},"axis":{"y":"independent"}},
"layer":[
{"data":{"name":"prec"},"transform":[{"filter":{"field":"reg","oneOf":["ALA","GRL"]}}],"mark":{"type":"line","point":true},"encoding":{"y":{"field":"v","type":"quantitative","scale":{"domain":[-324.1,31.7],"nice":false,"zero":false},"axis":{"orient":"right","title":"precipitation change [cm/yr]","titleAngle":270,"titleBaseline":"top","titlePadding":10,"values":[-10,-5,0,5,10,15,20,25,30],"labelExpr":"datum.value % 20 === 0 ? '' + datum.value : ''","tickSize":{"condition":{"test":"datum.value % 20 === 0","value":-14},"value":-7},"labelPadding":22}},"color":{"field":"reg","type":"nominal","legend":null},"strokeDash":{"field":"sc","type":"nominal","legend":null}}},
{"data":{"name":"labels"},"transform":[{"filter":{"field":"reg","oneOf":["ALA","GRL"]}}],"mark":{"type":"text","align":"center","baseline":"middle"},"encoding":{"y":{"field":"v","type":"quantitative","scale":{"domain":[-324.1,31.7],"nice":false,"zero":false},"axis":null},"text":{"field":"name"},"color":{"field":"reg","type":"nominal","legend":null}}},
{"data":{"name":"prec"},"transform":[{"filter":{"field":"reg","oneOf":["SCA","SIB"]}}],"mark":{"type":"line","point":true},"encoding":{"y":{"field":"v","type":"quantitative","scale":{"domain":[-272.3,98.3],"nice":false,"zero":false},"axis":{"orient":"right","title":null,"values":[-10,-5,0,5,10,15,20,25,30,35,40],"labelExpr":"datum.value % 20 === 0 ? '' + datum.value : ''","tickSize":{"condition":{"test":"datum.value % 20 === 0","value":-14},"value":-7},"labelPadding":22}},"color":{"field":"reg","type":"nominal","legend":null},"strokeDash":{"field":"sc","type":"nominal","legend":null}}},
{"data":{"name":"labels"},"transform":[{"filter":{"field":"reg","oneOf":["SCA","SIB"]}}],"mark":{"type":"text","align":"left","baseline":"middle"},"encoding":{"y":{"field":"v","type":"quantitative","scale":{"domain":[-272.3,98.3],"nice":false,"zero":false},"axis":null},"text":{"field":"name"},"color":{"field":"reg","type":"nominal","legend":null}}},
{"data":{"name":"prec"},"transform":[{"filter":{"field":"reg","oneOf":["CEU","MED"]}}],"mark":{"type":"line","point":true},"encoding":{"y":{"field":"v","type":"quantitative","scale":{"domain":[-220.2,141.7],"nice":false,"zero":false},"axis":{"orient":"right","title":null,"values":[-5,0,5,10,15,20],"labelExpr":"datum.value % 20 === 0 ? '' + datum.value : ''","tickSize":{"condition":{"test":"datum.value % 20 === 0","value":-14},"value":-7},"labelPadding":22}},"color":{"field":"reg","type":"nominal","legend":null},"strokeDash":{"field":"sc","type":"nominal","legend":null}}},
{"data":{"name":"labels"},"transform":[{"filter":{"field":"reg","oneOf":["CEU","MED"]}}],"mark":{"type":"text","align":"left","baseline":"middle"},"encoding":{"y":{"field":"v","type":"quantitative","scale":{"domain":[-220.2,141.7],"nice":false,"zero":false},"axis":null},"text":{"field":"name"},"color":{"field":"reg","type":"nominal","legend":null}}},
{"data":{"name":"prec"},"transform":[{"filter":{"field":"reg","oneOf":["SAS","WAS","EAS"]}}],"mark":{"type":"line","point":true},"encoding":{"y":{"field":"v","type":"quantitative","scale":{"domain":[-179.5,191.1],"nice":false,"zero":false},"axis":{"orient":"right","title":null,"values":[-25,-20,-15,-10,-5,0,5,10,15,20,25],"labelExpr":"datum.value % 20 === 0 ? '' + datum.value : ''","tickSize":{"condition":{"test":"datum.value % 20 === 0","value":-14},"value":-7},"labelPadding":22}},"color":{"field":"reg","type":"nominal","legend":null},"strokeDash":{"field":"sc","type":"nominal","legend":null}}},
{"data":{"name":"labels"},"transform":[{"filter":{"field":"reg","oneOf":["SAS","WAS","EAS"]}}],"mark":{"type":"text","align":"left","baseline":"middle"},"encoding":{"y":{"field":"v","type":"quantitative","scale":{"domain":[-179.5,191.1],"nice":false,"zero":false},"axis":null},"text":{"field":"name"},"color":{"field":"reg","type":"nominal","legend":null}}},
{"data":{"name":"prec"},"transform":[{"filter":{"field":"reg","oneOf":["NAF","CAF"]}}],"mark":{"type":"line","point":true},"encoding":{"y":{"field":"v","type":"quantitative","scale":{"domain":[-100,261.9],"nice":false,"zero":false},"axis":{"orient":"right","title":null,"values":[-5,0,5,10,15,20,25,30,35],"labelExpr":"datum.value % 20 === 0 ? '' + datum.value : ''","tickSize":{"condition":{"test":"datum.value % 20 === 0","value":-14},"value":-7},"labelPadding":22}},"color":{"field":"reg","type":"nominal","legend":null},"strokeDash":{"field":"sc","type":"nominal","legend":null}}},
{"data":{"name":"labels"},"transform":[{"filter":{"field":"reg","oneOf":["NAF","CAF"]}}],"mark":{"type":"text","align":"left","baseline":"middle"},"encoding":{"y":{"field":"v","type":"quantitative","scale":{"domain":[-100,261.9],"nice":false,"zero":false},"axis":null},"text":{"field":"name"},"color":{"field":"reg","type":"nominal","legend":null}}},
{"data":{"name":"prec"},"transform":[{"filter":{"field":"reg","oneOf":["NEA","NWA","SAM"]}}],"mark":{"type":"line","point":true},"encoding":{"y":{"field":"v","type":"quantitative","scale":{"domain":[-20,344.8],"nice":false,"zero":false},"axis":{"orient":"right","title":null,"values":[-20,-15,-10,-5,0,5,10,15,20,25,30,35,40,45,50,55,60,65],"labelExpr":"datum.value % 20 === 0 ? '' + datum.value : ''","tickSize":{"condition":{"test":"datum.value % 20 === 0","value":-14},"value":-7},"labelPadding":22}},"color":{"field":"reg","type":"nominal","legend":null},"strokeDash":{"field":"sc","type":"nominal","legend":null}}},
{"data":{"name":"labels"},"transform":[{"filter":{"field":"reg","oneOf":["NEA","NWA","SAM"]}}],"mark":{"type":"text","align":"left","baseline":"middle"},"encoding":{"y":{"field":"v","type":"quantitative","scale":{"domain":[-20,344.8],"nice":false,"zero":false},"axis":null},"text":{"field":"name"},"color":{"field":"reg","type":"nominal","legend":null}}}
]
}
]
}
